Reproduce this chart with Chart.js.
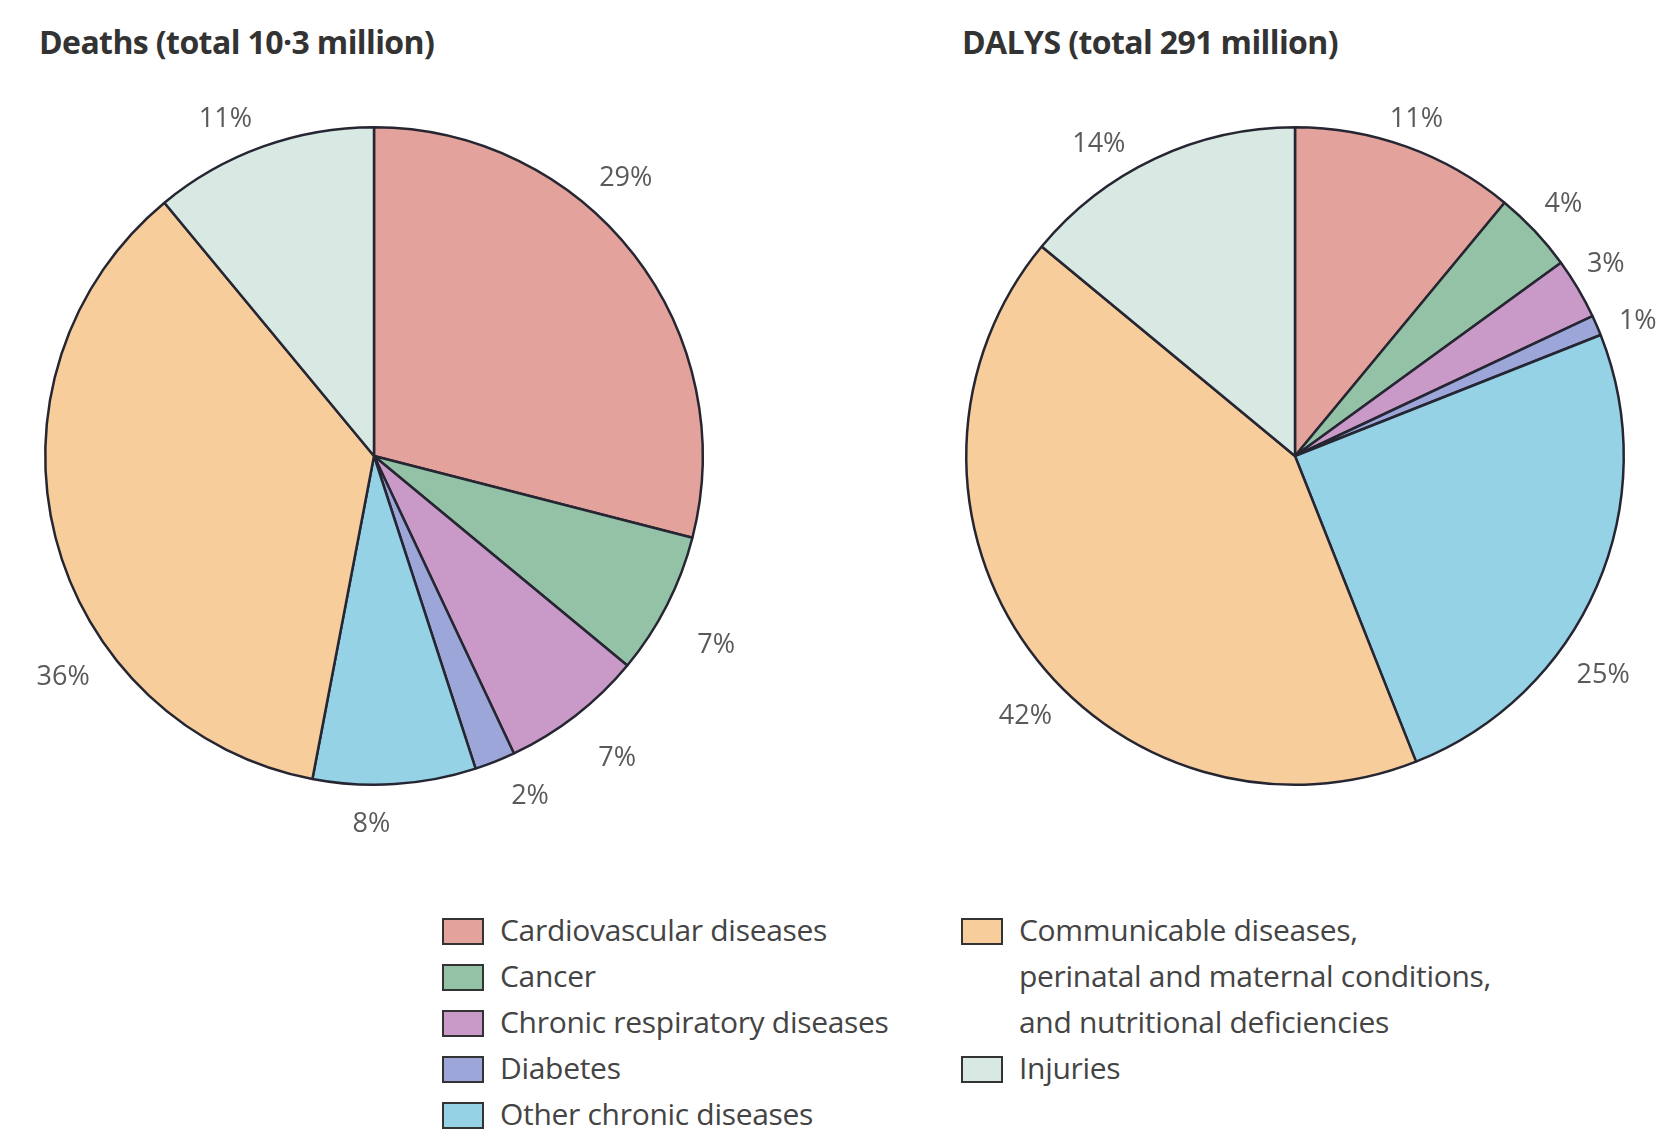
<!DOCTYPE html>
<html>
<head>
<meta charset="utf-8">
<script src="https://cdn.jsdelivr.net/npm/chart.js@4"></script>
<style>
  body { margin: 0; background: #fff; width: 1658px; height: 1134px; position: relative; overflow: hidden; font-family: "Open Sans", sans-serif; }
  .title { position: absolute; top: 20px; font-weight: bold; font-size: 32px; color: #333; letter-spacing: -0.6px; white-space: nowrap; }
  canvas { position: absolute; }
  .legend { position: absolute; top: 907px; }
  .row { display: flex; align-items: flex-start; font-size: 30px; line-height: 46px; color: #444; letter-spacing: -0.3px; white-space: nowrap; }
  .box { width: 38px; height: 23px; border: 2px solid #333; margin-top: 11px; margin-right: 16px; flex: none; }
</style>
</head>
<body>
<div class="title" style="left:39px">Deaths (total 10·3 million)</div>
<div class="title" style="left:962px">DALYS (total 291 million)</div>
<canvas id="deathsChart" width="830" height="820" style="left:0;top:80px"></canvas>
<canvas id="dalysChart" width="828" height="820" style="left:830px;top:80px"></canvas>
<div class="legend" id="legend1" style="left:442px"></div>
<div class="legend" id="legend2" style="left:961px"></div>
<script>
const categories = [
  'Cardiovascular diseases',
  'Cancer',
  'Chronic respiratory diseases',
  'Diabetes',
  'Other chronic diseases',
  'Communicable diseases, perinatal and maternal conditions, and nutritional deficiencies',
  'Injuries',
];
const deaths = [29, 7, 7, 2, 8, 36, 11];
const dalys = [11, 4, 3, 1, 25, 42, 14];

const colors = ['#e3a29c', '#93c2a6', '#c99ac7', '#9ca6d9', '#95d2e5', '#f7cd9c', '#d8e8e2'];

// label nudges: degrees off the slice middle, and distance as a multiple of the radius
const deathLabelNudge = [-10, 2, -1, -3, 4, -21, -4];
const deathLabelDist = [1.14, 1.19, 1.18, 1.14, 1.12, 1.16, 1.12];
const dalyLabelNudge = [0, 0, -1, 2, 12, -8, -7];
const dalyLabelDist = [1.09, 1.12, 1.11, 1.12, 1.15, 1.14, 1.12];

const pctLabels = {
  id: 'pctLabels',
  afterDatasetsDraw(chart, args, opts) {
    const ctx = chart.ctx;
    const arcs = chart.getDatasetMeta(0).data;
    const values = chart.data.datasets[0].data;
    ctx.save();
    ctx.font = '27px "Open Sans", sans-serif';
    ctx.fillStyle = '#5a5a5a';
    ctx.textAlign = 'center';
    ctx.textBaseline = 'middle';
    arcs.forEach((arc, i) => {
      const mid = (arc.startAngle + arc.endAngle) / 2 + opts.nudge[i] * Math.PI / 180;
      const r = arc.outerRadius * opts.dist[i];
      ctx.fillText(values[i] + '%', arc.x + Math.cos(mid) * r, arc.y + Math.sin(mid) * r);
    });
    ctx.restore();
  }
};

function makePie(id, values, padding, nudge, dist) {
  return new Chart(document.getElementById(id), {
    type: 'pie',
    data: {
      labels: categories,
      datasets: [{
        data: values,
        backgroundColor: colors,
        borderColor: '#262633',
        borderWidth: 2.5,
      }],
    },
    options: {
      responsive: false,
      animation: false,
      layout: { padding },
      plugins: {
        legend: { display: false },
        tooltip: { enabled: false },
        pctLabels: { nudge, dist },
      },
    },
    plugins: [pctLabels],
  });
}

makePie('deathsChart', deaths, { left: 44, right: 126, top: 46, bottom: 114 }, deathLabelNudge, deathLabelDist);
makePie('dalysChart', dalys, { left: 135, right: 33, top: 46, bottom: 114 }, dalyLabelNudge, dalyLabelDist);

// legend, split in two columns as in the printed figure
const legendLines = [
  ['Cardiovascular diseases'],
  ['Cancer'],
  ['Chronic respiratory diseases'],
  ['Diabetes'],
  ['Other chronic diseases'],
  ['Communicable diseases,', 'perinatal and maternal conditions,', 'and nutritional deficiencies'],
  ['Injuries'],
];
function addLegendRow(el, i) {
  const row = document.createElement('div');
  row.className = 'row';
  const box = document.createElement('div');
  box.className = 'box';
  box.style.background = colors[i];
  const txt = document.createElement('div');
  txt.innerHTML = legendLines[i].join('<br>');
  row.appendChild(box);
  row.appendChild(txt);
  el.appendChild(row);
}
[0, 1, 2, 3, 4].forEach(i => addLegendRow(document.getElementById('legend1'), i));
[5, 6].forEach(i => addLegendRow(document.getElementById('legend2'), i));
</script>
</body>
</html>
